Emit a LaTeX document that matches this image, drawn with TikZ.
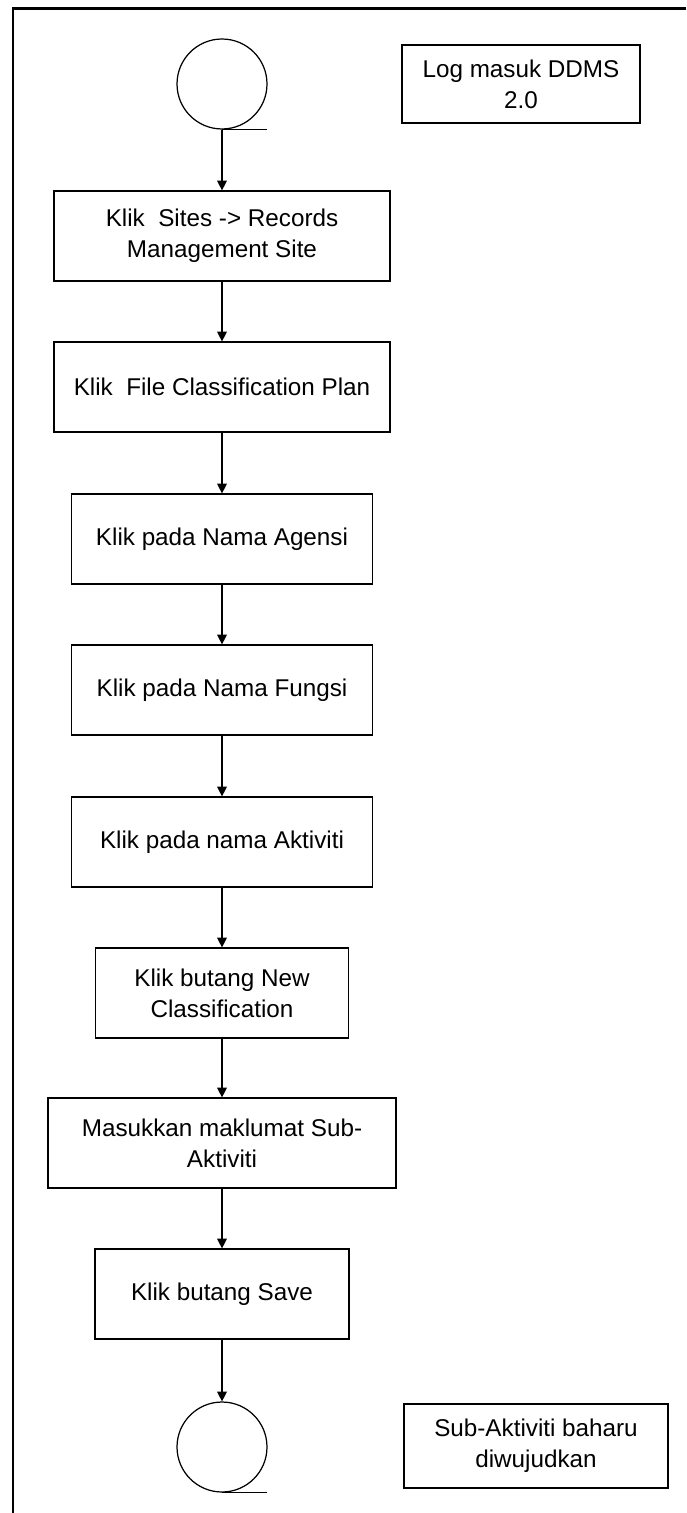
\documentclass[tikz,border=0pt]{standalone}
\usepackage{fontspec}
\setmainfont{Liberation Sans}
\usetikzlibrary{arrows.meta}
\begin{document}
\begin{tikzpicture}[x=0.02cm, y=-0.02cm, line width=0.7pt, >={Triangle[length=5.5pt,width=5.5pt]},
	font=\fontsize{13.8pt}{17.5pt}\selectfont,
	kotak/.style={draw, align=center, inner sep=0pt, minimum height=1.8cm},
	bulat/.style={draw, circle, minimum size=1.8cm, inner sep=0pt}]
	\useasboundingbox (0,0) rectangle (686,1513);
	\draw[line width=1.7pt] (13,1513)--(13,9)--(686,9);
	\node[bulat] (mula) at (222,84) {};
	\draw (mula.south)--++(45,0);
	\node[kotak, minimum width=4.76cm, minimum height=1.56cm] (log) at (521,84) {Log masuk DDMS\\2.0};
	\node[kotak, minimum width=6.72cm] (b1) at (222,236) {Klik\ \ Sites -> Records\\Management Site};
	\node[kotak, minimum width=6.72cm] (b2) at (222,387) {Klik\ \ File Classification Plan};
	\node[kotak, minimum width=6.02cm] (b3) at (222,539) {Klik pada Nama Agensi};
	\node[kotak, minimum width=6.02cm] (b4) at (222,690) {Klik pada Nama Fungsi};
	\node[kotak, minimum width=6.02cm] (b5) at (222,842) {Klik pada nama Aktiviti};
	\node[kotak, minimum width=5.06cm] (b6) at (222,993) {Klik butang New\\Classification};
	\node[kotak, minimum width=6.96cm] (b7) at (222,1143) {Masukkan maklumat Sub-\\Aktiviti};
	\node[kotak, minimum width=5.08cm] (b8) at (222,1294) {Klik butang Save};
	\node[bulat] (akhir) at (222,1447) {};
	\draw (akhir.south)--++(45,0);
	\node[kotak, minimum width=5.28cm, minimum height=1.68cm] (hasil) at (536,1446) {Sub-Aktiviti baharu\\diwujudkan};
	\draw[->] (mula.south)--(b1.north);
	\foreach \a/\b in {b1/b2,b2/b3,b3/b4,b4/b5,b5/b6,b6/b7,b7/b8}
		\draw[->] (\a.south)--(\b.north);
	\draw[->] (b8.south)--(akhir.north);
\end{tikzpicture}
\end{document}
